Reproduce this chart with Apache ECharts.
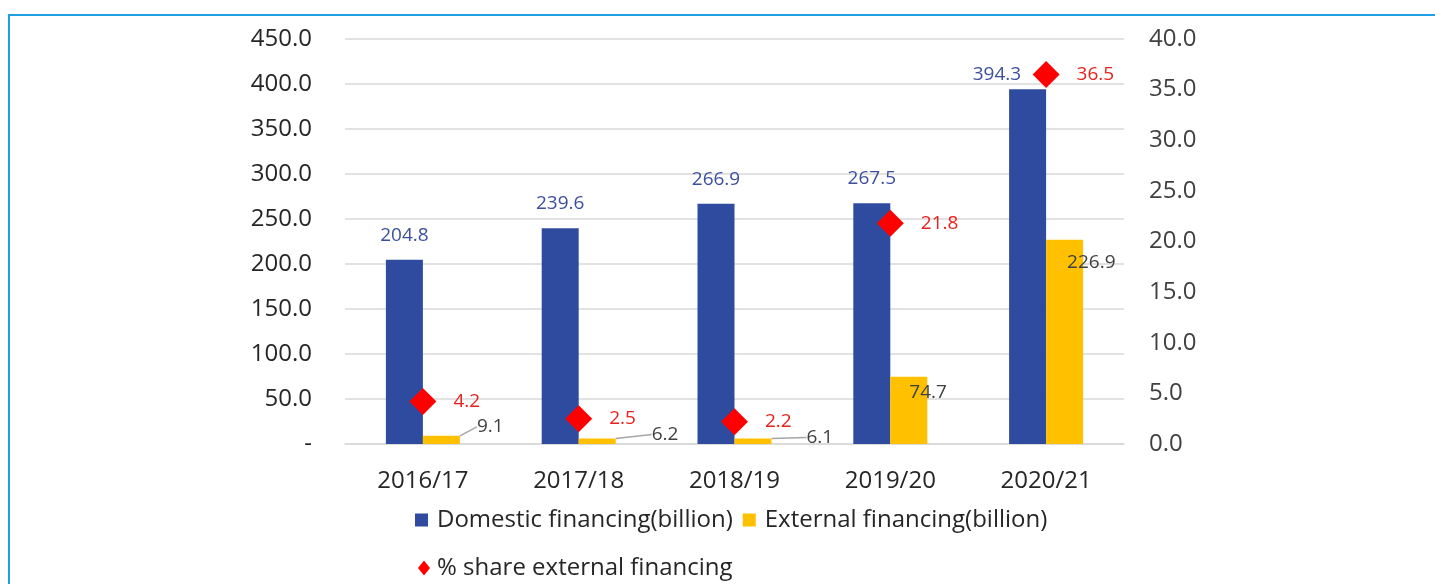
<!DOCTYPE html>
<html>
<head>
<meta charset="utf-8">
<script src="https://cdn.jsdelivr.net/npm/echarts@6/dist/echarts.min.js"></script>
<style>
html,body{margin:0;padding:0;background:#fff;}
#c{width:1435px;height:584px;}
</style>
</head>
<body>
<div id="c"></div>
<script>
const categories = ['2016/17', '2017/18', '2018/19', '2019/20', '2020/21'];
const domestic = [204.8, 239.6, 266.9, 267.5, 394.3];
const external = [9.1, 6.2, 6.1, 74.7, 226.9];
const share = [4.2, 2.5, 2.2, 21.8, 36.5];
const seriesNames = ['Domestic financing(billion)', 'External financing(billion)', '% share external financing'];

const FONT = '"Open Sans", sans-serif';
const chart = echarts.init(document.getElementById('c'));

const domData = domestic.map((v, i) => {
  if (i === 4) {
    return { value: v, label: { position: [12, -15], align: 'right', verticalAlign: 'middle' } };
  }
  return v;
});
const extLabelPos = [
  { position: [54, -9] },
  { position: [73, -4] },
  { position: [72, -1] },
  { position: [19, 16] },
  { position: [21, 23] }
];
const extData = external.map((v, i) => ({
  value: v,
  label: Object.assign({ align: 'left', verticalAlign: 'middle' }, extLabelPos[i]),
  labelLine: { show: i < 3 }
}));

chart.setOption({
  animation: false,
  backgroundColor: '#fff',
  textStyle: { fontFamily: FONT },
  graphic: [{
    type: 'rect',
    shape: { x: 9, y: 15, width: 1460, height: 620 },
    style: { fill: 'none', stroke: '#1e9fe3', lineWidth: 2 },
    silent: true, z: -1
  }],
  grid: { left: 345, right: 311, top: 39, bottom: 140 },
  legend: [{
    data: [seriesNames[0], seriesNames[1]],
    left: 410, top: 503,
    icon: 'rect', itemWidth: 13, itemHeight: 13, itemGap: 10,
    textStyle: { fontSize: 24, color: '#262626', fontFamily: FONT, padding: [0, 0, 0, 4] }
  }, {
    data: [seriesNames[2]],
    left: 413, top: 551,
    icon: 'diamond', itemWidth: 12, itemHeight: 15,
    textStyle: { fontSize: 24, color: '#262626', fontFamily: FONT, padding: [0, 0, 0, 2] }
  }],
  xAxis: {
    type: 'category',
    data: categories,
    axisLine: { lineStyle: { color: '#d9d9d9', width: 1.5 } },
    axisTick: { show: false },
    axisLabel: { fontSize: 24, color: '#262626', margin: 25, fontFamily: FONT }
  },
  yAxis: [{
    type: 'value', min: 0, max: 450, interval: 50,
    axisLine: { show: false }, axisTick: { show: false },
    splitLine: { lineStyle: { color: '#d9d9d9', width: 1.5 } },
    axisLabel: {
      fontSize: 24, color: '#262626', margin: 33, fontFamily: FONT,
      formatter: v => v === 0 ? '-' : v.toFixed(1)
    }
  }, {
    type: 'value', min: 0, max: 40, interval: 5,
    axisLine: { show: false }, axisTick: { show: false },
    splitLine: { show: false },
    axisLabel: {
      fontSize: 24, color: '#404040', margin: 25, fontFamily: FONT,
      formatter: v => v.toFixed(1)
    }
  }],
  series: [{
    name: seriesNames[0],
    type: 'bar',
    data: domData,
    barWidth: 37,
    barGap: '0%',
    itemStyle: { color: '#2f4b9f' },
    label: {
      show: true, position: 'top', distance: 15, overflow: 'none',
      fontSize: 19, color: '#3b4f9e', fontFamily: FONT,
      formatter: p => p.value.toFixed(1)
    }
  }, {
    name: seriesNames[1],
    type: 'bar',
    data: extData,
    barWidth: 37,
    barGap: '0%',
    itemStyle: { color: '#ffc000' },
    label: {
      show: true, overflow: 'none',
      fontSize: 19, color: '#404040', fontFamily: FONT,
      formatter: p => p.value.toFixed(1)
    },
    labelLine: { lineStyle: { color: '#a6a6a6', width: 1.5 } }
  }, {
    name: seriesNames[2],
    type: 'line',
    yAxisIndex: 1,
    data: share,
    symbol: 'diamond',
    symbolSize: [27, 27],
    lineStyle: { width: 0, opacity: 0 },
    itemStyle: { color: '#ff0000' },
    label: {
      show: true, position: 'right', distance: 17,
      fontSize: 19, color: '#e8211d', fontFamily: FONT,
      formatter: p => p.value.toFixed(1)
    },
    z: 5
  }]
});
</script>
</body>
</html>
